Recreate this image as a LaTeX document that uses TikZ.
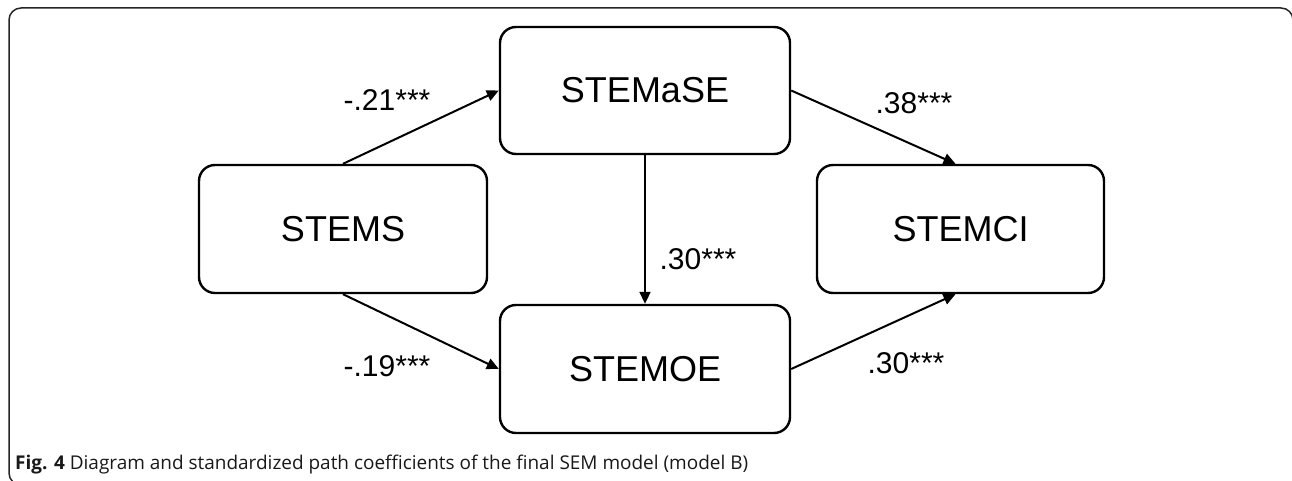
\documentclass[tikz,border=0pt]{standalone}
\usepackage{fontspec}
\setmainfont{Liberation Sans}
\newfontfamily\capfont{Open Sans}
\usetikzlibrary{arrows.meta}
\tikzset{
  x=1pt, y=-1pt,
  varbox/.style={draw, line width=2.4pt, rounded corners=16pt, inner sep=0pt,
    font=\fontsize{36}{40}\selectfont, text=black},
  path/.style={line width=2pt, -{Triangle[length=12pt,width=11pt]}},
  coef/.style={font=\fontsize{30}{34}\selectfont, inner sep=0pt},
}
\begin{document}
\begin{tikzpicture}
\useasboundingbox (0,0) rectangle (1292,481);
\fill[white] (0,0) rectangle (1292,481);
% frame
\draw[line width=1.5pt, draw=black!85, rounded corners=12pt] (300,485) -- (9,485) -- (9,8) -- (1293,8) -- (1293,17);
% nodes
\node[varbox, minimum width=288pt, minimum height=128pt] (stems) at (343,229) {STEMS};
\node[varbox, minimum width=290pt, minimum height=127pt] (stemase) at (645,90.5) {STEMaSE};
\node[varbox, minimum width=290pt, minimum height=128pt] (stemoe) at (645,369) {STEMOE};
\node[varbox, minimum width=287pt, minimum height=128pt] (stemci) at (960.5,229) {STEMCI};
% paths
\draw[path] (stems.north) -- (stemase.west);
\draw[path] (stems.south) -- (stemoe.west);
\draw[path] (stemase.south) -- (stemoe.north);
\draw[path] (stemase.east) -- ([xshift=-5pt]stemci.north);
\draw[path] (stemoe.east) -- ([xshift=-5pt]stemci.south);
% coefficients
\node[coef] (c1) at (387,100) {-.21***};
\node[coef] (c2) at (387,366) {-.19***};
\node[coef] (c3) at (698,259) {.30***};
\node[coef] (c4) at (914,103) {.38***};
\node[coef] (c5) at (906,363) {.30***};
% caption
\node[anchor=base west, inner sep=0pt, text=black!90] (cap) at (15,469)
  {\resizebox{733pt}{!}{\capfont\fontsize{17}{20}\selectfont\textbf{Fig. 4} Diagram and standardized path coefficients of the final SEM model (model B)}};
\end{tikzpicture}
\end{document}
